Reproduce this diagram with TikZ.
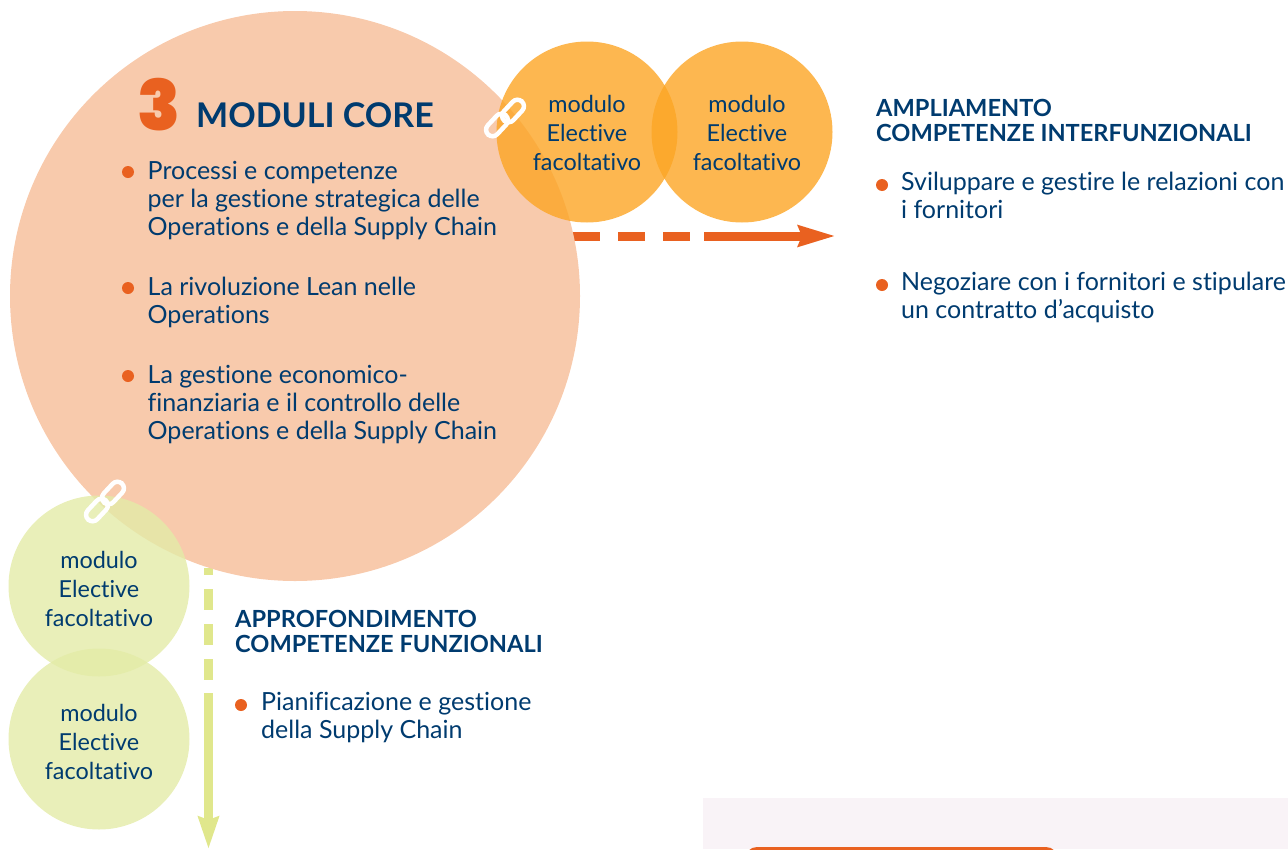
\documentclass[tikz,border=0pt]{standalone}
\usepackage{fontspec}
\setmainfont{Lato}[Ligatures=CommonOff]
\newfontfamily\numfont{Poppins Black}
\usetikzlibrary{arrows.meta,positioning}
\definecolor{coreblue}{HTML}{003B6F}
\definecolor{coreorange}{HTML}{E96120}
\definecolor{coresalmon}{HTML}{F8CAAC}
\definecolor{elecorange}{HTML}{FCA524}
\definecolor{elecgreen}{HTML}{E3EBA7}
\definecolor{arrowgreen}{HTML}{E0E78C}
\definecolor{panelpink}{HTML}{F9F3F7}
\newcommand{\electext}[1]{\rule{0pt}{#1}modulo\\Elective\\facoltativo}
\tikzset{
  bodytext/.style={text=coreblue, inner sep=0pt, align=left, anchor=north west, font=\fontsize{25}{28}\selectfont},
  headtext/.style={text=coreblue, inner sep=0pt, align=left, anchor=north west, font=\fontsize{23.6}{25}\selectfont\bfseries},
  bulletdot/.style={circle, fill=coreorange, inner sep=0pt, minimum size=12pt},
  elective/.style={circle, inner sep=0pt, minimum size=181pt, fill opacity=0.8, text opacity=1, text=coreblue, align=center, font=\fontsize{23.4}{29}\selectfont},
  electivetext/.style={inner sep=0pt, text=coreblue, align=center, font=\fontsize{23.4}{29}\selectfont},
  chainlink/.style={draw=white, line width=4.5pt, rounded corners=6.5pt, inner sep=0pt, minimum width=26pt, minimum height=13pt, rotate=47},
  dashorange/.style={draw=coreorange, line width=9pt, dash pattern=on 27pt off 18pt},
  solidorange/.style={draw=coreorange, line width=9pt, -{Stealth[length=37pt,width=20pt,inset=3pt]}},
  dashgreen/.style={draw=arrowgreen, line width=9pt, dash pattern=on 21pt off 14pt, dash phase=14pt},
  solidgreen/.style={draw=arrowgreen, line width=9pt, -{Stealth[length=32pt,width=20pt,inset=3pt]}},
}
\begin{document}
\begin{tikzpicture}[x=1pt,y=-1pt]
  \clip (0,0) rectangle (1288,849);

  \fill[panelpink] (703,798) rectangle (1288,849);
  \fill[coreorange, rounded corners=12pt] (745,847) rectangle (1058,890);

  \coordinate (dashA) at (573,236);
  \coordinate (dashB) at (690,236);
  \coordinate (solidA) at (704,236);
  \coordinate (solidB) at (836,236);
  \draw[dashorange] (dashA) -- (dashB);
  \draw[solidorange] (solidA) -- (solidB);

  \coordinate (dashC) at (208.5,568);
  \coordinate (dashD) at (208.5,683);
  \coordinate (solidC) at (208.5,693);
  \coordinate (solidD) at (208.5,849);
  \draw[dashgreen] (dashC) -- (dashD);
  \draw[solidgreen] (solidC) -- (solidD);

  \node[circle, fill=coresalmon, inner sep=0pt, minimum size=570pt] (core) at (295,296) {};

  \node[elective, fill=elecorange] (elecA) at (587,132) {\electext{19pt}};
  \node[elective, fill=elecorange] (elecB) at (742,132) {};
  \node[electivetext] (elecBtext) at (747,133) {modulo\\Elective\\facoltativo};
  \node[elective, fill=elecgreen] (elecC) at (99,586) {\electext{23pt}};
  \node[elective, fill=elecgreen] (elecD) at (99,739) {\electext{23pt}};

  \node[chainlink] (linkA) at (513,111) {};
  \node[chainlink] (linkB) at (497,125) {};
  \node[chainlink] (linkC) at (113,493) {};
  \node[chainlink] (linkD) at (97,510) {};

  \node[text=coreorange, inner sep=0pt, font=\fontsize{70}{70}\selectfont\numfont] (three) at (159,104.5) {3};
  \node[text=coreblue, inner sep=0pt, anchor=west, font=\fontsize{34}{34}\selectfont\bfseries] (title) at (196,115.5) {MODULI CORE};

  \node[bulletdot] (dotA) at (128,172) {};
  \node[bodytext] (itemA) at (147.5,161) {Processi e competenze\\per la gestione strategica delle\\Operations e della Supply Chain};
  \node[bulletdot] (dotB) at (128,288) {};
  \node[bodytext] (itemB) at (147.5,277) {La rivoluzione Lean nelle\\Operations};
  \node[bulletdot] (dotC) at (128,376) {};
  \node[bodytext] (itemC) at (147.5,365) {La gestione economico-\\finanziaria e il controllo delle\\Operations e della Supply Chain};

  \node[headtext] (headR) at (876,99) {AMPLIAMENTO\\COMPETENZE INTERFUNZIONALI};
  \node[bulletdot] (dotD) at (882,185) {};
  \node[bodytext] (itemD) at (901,172) {Sviluppare e gestire le relazioni con\\i fornitori};
  \node[bulletdot] (dotE) at (882,285) {};
  \node[bodytext] (itemE) at (901,272) {Negoziare con i fornitori e stipulare\\un contratto d’acquisto};

  \node[headtext] (headL) at (235,610) {APPROFONDIMENTO\\COMPETENZE FUNZIONALI};
  \node[bulletdot] (dotF) at (241,705) {};
  \node[bodytext] (itemF) at (261,692) {Pianificazione e gestione\\della Supply Chain};
\end{tikzpicture}
\end{document}
